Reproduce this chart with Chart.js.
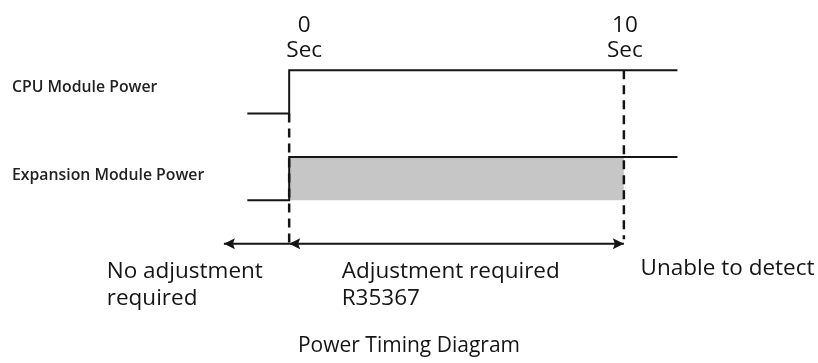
<!DOCTYPE html>
<html>
<head>
<meta charset="utf-8">
<title>Power Timing Diagram</title>
<script src="https://cdn.jsdelivr.net/npm/chart.js@4.4.0/dist/chart.umd.min.js"></script>
<style>
  html, body { margin: 0; padding: 0; background: #fff; }
  #wrap { width: 818px; height: 363px; }
</style>
</head>
<body>
<div id="wrap"><canvas id="timingChart"></canvas></div>
<script>
// Signal data (time in seconds, level 0 = off, 1 = on)
const signalTimes = [-1.25, 0, 0, 11.6];
const cpuLevels = [0, 0, 1, 1];
const expLevels = [0, 0, 1, 1];

// Adjustment window and markers
const adjustWindow = [0, 10];
const noAdjustFrom = -1.95;
const markerTimes = [0, 10];
const markerLabels = [['0', 'Sec'], ['10', 'Sec']];
const rowLabels = ['CPU Module Power', 'Expansion Module Power'];
const zoneLabels = [['No adjustment', 'required'], ['Adjustment required', 'R35367'], ['Unable to detect']];

// Layout of the rows on the y scale
const CPU_BASE = 2;
const EXP_BASE = 0;
const ARROW_ROW = -1;
const INK = '#151515';
const FONT = '"Open Sans", "Noto Sans", sans-serif';

const toPoints = (levels, base) => signalTimes.map((t, i) => ({ x: t, y: base + levels[i] }));

// arrow heads at the ends of some datasets
const arrowHeads = {
    id: 'arrowHeads',
    afterDatasetsDraw(chart) {
        const ctx = chart.ctx;
        chart.data.datasets.forEach((ds, i) => {
            if (!ds.arrowAt) return;
            const pts = chart.getDatasetMeta(i).data;
            ds.arrowAt.forEach(end => {
                const tip = end === 'start' ? pts[0] : pts[pts.length - 1];
                const from = end === 'start' ? pts[1] : pts[pts.length - 2];
                const ang = Math.atan2(tip.y - from.y, tip.x - from.x);
                ctx.save();
                ctx.translate(tip.x, tip.y);
                ctx.rotate(ang);
                ctx.beginPath();
                ctx.moveTo(0, 0);
                ctx.lineTo(-11, -5.5);
                ctx.lineTo(-9, 0);
                ctx.lineTo(-11, 5.5);
                ctx.closePath();
                ctx.fillStyle = ds.borderColor;
                ctx.fill();
                ctx.restore();
            });
        });
    }
};

// all the text around the diagram
const markerNudge = [15, 1];
const zoneAnchors = [-5.45, 1.57, 10.5];
const timingLabels = {
    id: 'timingLabels',
    afterDraw(chart) {
        const { ctx, scales: { x, y } } = chart;
        ctx.save();
        ctx.fillStyle = INK;

        // time markers on top
        ctx.font = '22.5px ' + FONT;
        ctx.textAlign = 'center';
        ctx.textBaseline = 'alphabetic';
        markerTimes.forEach((t, i) => {
            const px = x.getPixelForValue(t) + markerNudge[i];
            ctx.fillText(markerLabels[i][0], px, 32);
            ctx.fillText(markerLabels[i][1], px, 57);
        });

        // row names
        ctx.fillStyle = '#222';
        ctx.font = '600 15.8px ' + FONT;
        ctx.textAlign = 'left';
        ctx.textBaseline = 'middle';
        ctx.fillText(rowLabels[0], 12, y.getPixelForValue(CPU_BASE + 0.5) - 4);
        ctx.fillText(rowLabels[1], 12, y.getPixelForValue(EXP_BASE + 0.5) - 3.5);

        // zone descriptions under the arrows
        ctx.fillStyle = INK;
        ctx.font = '22.5px ' + FONT;
        ctx.textBaseline = 'alphabetic';
        const rowY = y.getPixelForValue(ARROW_ROW);
        zoneLabels.forEach((lines, i) => {
            const px = x.getPixelForValue(zoneAnchors[i]);
            const top = i === 2 ? rowY + 31 : rowY + 34;
            lines.forEach((line, j) => ctx.fillText(line, px, top + j * 27));
        });
        ctx.restore();
    }
};

const ctx = document.getElementById('timingChart').getContext('2d');
const chart = new Chart(ctx, {
    type: 'line',
    data: {
        datasets: [
            {
                label: 'CPU Module Power',
                data: toPoints(cpuLevels, CPU_BASE),
                borderColor: INK,
                borderWidth: 2,
                pointRadius: 0,
                order: 0
            },
            {
                label: 'Expansion Module Power',
                data: toPoints(expLevels, EXP_BASE),
                borderColor: INK,
                borderWidth: 2,
                pointRadius: 0,
                order: 0
            },
            {
                label: 'Adjustment area',
                data: adjustWindow.map(t => ({ x: t, y: EXP_BASE + 1 })),
                borderWidth: 0,
                pointRadius: 0,
                backgroundColor: '#c6c6c6',
                fill: { value: EXP_BASE },
                order: 9
            },
            {
                label: '0 sec',
                data: [{ x: markerTimes[0], y: CPU_BASE }, { x: markerTimes[0], y: ARROW_ROW - 0.1 }],
                borderColor: INK,
                borderWidth: 2.5,
                borderDash: [9, 6],
                pointRadius: 0,
                order: 3
            },
            {
                label: '10 sec',
                data: [{ x: markerTimes[1], y: CPU_BASE + 1 }, { x: markerTimes[1], y: ARROW_ROW + 0.1 }],
                borderColor: INK,
                borderWidth: 2.5,
                borderDash: [9, 6],
                pointRadius: 0,
                order: 3
            },
            {
                label: 'No adjustment',
                data: [{ x: adjustWindow[0], y: ARROW_ROW }, { x: noAdjustFrom, y: ARROW_ROW }],
                borderColor: INK,
                borderWidth: 2,
                pointRadius: 0,
                arrowAt: ['end'],
                order: 1
            },
            {
                label: 'Adjustment required',
                data: adjustWindow.map(t => ({ x: t, y: ARROW_ROW })),
                borderColor: INK,
                borderWidth: 2,
                pointRadius: 0,
                arrowAt: ['start', 'end'],
                order: 1
            }
        ]
    },
    options: {
        responsive: true,
        maintainAspectRatio: false,
        animation: false,
        events: [],
        layout: { padding: 0 },
        scales: {
            x: { type: 'linear', display: false, min: -8.64, max: 15.8 },
            y: { type: 'linear', display: false, min: -3.08, max: 4.62 }
        },
        plugins: {
            legend: { display: false },
            tooltip: { enabled: false },
            title: {
                display: true,
                text: 'Power Timing Diagram',
                position: 'bottom',
                color: INK,
                font: { family: FONT, size: 21, weight: 'normal' },
                padding: { top: 0, bottom: 4 }
            }
        }
    },
    plugins: [arrowHeads, timingLabels]
});
</script>
</body>
</html>
